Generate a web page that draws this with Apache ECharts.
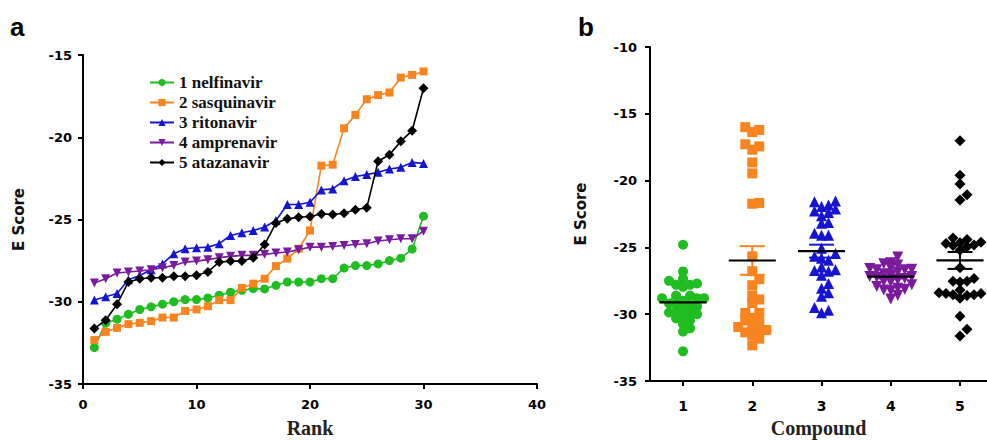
<!DOCTYPE html>
<html><head><meta charset="utf-8">
<script src="https://cdn.jsdelivr.net/npm/echarts@6/dist/echarts.min.js"></script>
<style>html,body{margin:0;padding:0;background:#fff}#c{width:987px;height:440px}</style>
</head><body><div id="c"></div>
<script>
var ranks = [1,2,3,4,5,6,7,8,9,10,11,12,13,14,15,16,17,18,19,20,21,22,23,24,25,26,27,28,29,30];
var seriesNames = ['1 nelfinavir','2 sasquinavir','3 ritonavir','4 amprenavir','5 atazanavir'];
var compounds = [1,2,3,4,5];
var nelfinavir = [-32.78,-31.3,-31.06,-30.76,-30.47,-30.31,-30.15,-30.0,-29.87,-29.87,-29.77,-29.6,-29.42,-29.3,-29.2,-29.22,-29.0,-28.8,-28.8,-28.8,-28.6,-28.6,-27.95,-27.8,-27.8,-27.7,-27.5,-27.35,-26.8,-24.8];
var sasquinavir = [-32.33,-31.83,-31.59,-31.36,-31.28,-31.18,-30.96,-30.96,-30.56,-30.47,-30.27,-29.9,-29.9,-29.16,-28.9,-28.6,-27.83,-27.38,-26.78,-25.67,-21.73,-21.67,-19.46,-18.64,-17.69,-17.44,-17.28,-16.37,-16.21,-16.0];
var ritonavir = [-29.9,-29.7,-29.5,-28.66,-28.4,-28.05,-27.7,-27.08,-26.78,-26.72,-26.68,-26.47,-25.97,-25.81,-25.67,-25.46,-25.06,-24.09,-24.09,-23.95,-23.2,-23.14,-22.64,-22.39,-22.27,-22.13,-21.93,-21.83,-21.53,-21.59];
var amprenavir = [-28.86,-28.6,-28.25,-28.19,-28.13,-28.05,-27.93,-27.79,-27.59,-27.53,-27.44,-27.32,-27.24,-27.18,-27.18,-27.12,-27.04,-26.98,-26.84,-26.68,-26.68,-26.64,-26.58,-26.52,-26.47,-26.31,-26.23,-26.17,-26.17,-25.71];
var atazanavir = [-31.63,-31.12,-30.15,-28.8,-28.6,-28.54,-28.54,-28.45,-28.45,-28.39,-28.19,-27.59,-27.53,-27.53,-27.32,-26.52,-25.22,-24.96,-24.86,-24.82,-24.66,-24.7,-24.62,-24.41,-24.29,-21.46,-21.06,-20.25,-19.6,-17.02];

var allData = [nelfinavir, sasquinavir, ritonavir, amprenavir, atazanavir];
var colors = ['#1fbd1f','#f7841f','#1414d2','#7a1a9c','#000000'];
var invTri = 'path://M0,0 L10,0 L5,9 Z';
var symbols = ['circle','rect','triangle',invTri,'diamond'];
var sizesA = [9,8,9,9,10];
var sizesB = [10,10,11,11,11];

// panel b axis ranges
var bxMin = 0.523, bxMax = 5.39, byMin = -35, byMax = -10;
var bLeft = 650, bRight = 987, bTop = 47, bBottom = 381;
var pxPerX = (bRight - bLeft) / (bxMax - bxMin);
var pxPerY = (bBottom - bTop) / (byMax - byMin);

function swarm(vals, center, diam, maxOff) {
  var sorted = vals.slice().sort(function(a,b){return a-b;});
  var placed = [];
  var out = [];
  sorted.forEach(function(v){
    var best = null;
    for (var k = 0; k < 40; k++) {
      var step = Math.ceil(k/2) * (k % 2 === 1 ? 1 : -1);
      var off = step * diam;
      if (Math.abs(off) > maxOff) continue;
      var ok = true;
      for (var i = 0; i < placed.length; i++) {
        var dx = placed[i][0] - off, dy = (placed[i][1] - v) * pxPerY;
        if (dx*dx + dy*dy < diam*diam) { ok = false; break; }
      }
      if (ok) { best = off; break; }
    }
    if (best === null) best = 0;
    placed.push([best, v]);
    out.push([center + best / pxPerX, v]);
  });
  return out;
}

function meanSem(vals) {
  var n = vals.length, m = 0;
  vals.forEach(function(v){ m += v; }); m /= n;
  var s = 0; vals.forEach(function(v){ s += (v-m)*(v-m); });
  var sd = Math.sqrt(s/(n-1));
  return [m, sd/Math.sqrt(n)];
}

var series = [];
allData.forEach(function(vals, i){
  series.push({
    name: seriesNames[i], type: 'line', xAxisIndex: 0, yAxisIndex: 0,
    data: ranks.map(function(r, j){ return [r, vals[j]]; }),
    symbol: symbols[i], symbolSize: sizesA[i],
    lineStyle: {color: colors[i], width: 1.6},
    itemStyle: {color: colors[i], opacity: 1},
    z: 2 + (i === 4 ? 5 : i)
  });
});
allData.forEach(function(vals, i){
  series.push({
    name: 'b' + (i+1), type: 'scatter', xAxisIndex: 1, yAxisIndex: 1,
    data: swarm(vals, compounds[i], 7, 22),
    symbol: symbols[i], symbolSize: sizesB[i],
    itemStyle: {color: colors[i], opacity: 1}, z: 2
  });
});
var msData = allData.map(function(vals, i){ var ms = meanSem(vals); return [compounds[i], ms[0], ms[1]]; });
series.push({
  name: 'meanSem', type: 'custom', xAxisIndex: 1, yAxisIndex: 1, z: 10,
  data: msData,
  renderItem: function(params, api){
    var c = api.value(0), m = api.value(1), se = api.value(2);
    var col = colors[params.dataIndex];
    var pL = api.coord([c - 0.34, m]), pR = api.coord([c + 0.34, m]);
    var pT = api.coord([c, m + se]), pB = api.coord([c, m - se]);
    var cT1 = api.coord([c - 0.18, m + se]), cT2 = api.coord([c + 0.18, m + se]);
    var cB1 = api.coord([c - 0.18, m - se]), cB2 = api.coord([c + 0.18, m - se]);
    var st = {stroke: col, lineWidth: 2};
    return {type: 'group', children: [
      {type: 'line', shape: {x1: pT[0], y1: pT[1], x2: pB[0], y2: pB[1]}, style: st},
      {type: 'line', shape: {x1: cT1[0], y1: cT1[1], x2: cT2[0], y2: cT2[1]}, style: st},
      {type: 'line', shape: {x1: cB1[0], y1: cB1[1], x2: cB2[0], y2: cB2[1]}, style: st},
      {type: 'line', shape: {x1: pL[0], y1: pL[1], x2: pR[0], y2: pR[1]}, style: {stroke: '#000', lineWidth: 2.2}}
    ]};
  }
});

var axisLine = {show: true, lineStyle: {color: '#000', width: 2}};
var axisTick = {show: true, inside: false, length: 5, lineStyle: {color: '#000', width: 2}};
var lbl = {color: '#000', fontFamily: '"DejaVu Sans", Arial, sans-serif', fontWeight: 'bold', fontSize: 13};
var serifName = {fontFamily: '"Liberation Serif", "Times New Roman", serif', fontWeight: 'bold', fontSize: 20, color: '#222'};
var sansName = {fontFamily: '"DejaVu Sans", Arial, sans-serif', fontWeight: 'bold', fontSize: 15, color: '#111'};

var option = {
  animation: false,
  backgroundColor: '#fff',
  graphic: [
    {type: 'text', left: 10, top: 14, style: {text: 'a', font: 'bold 26px "Liberation Sans", Arial, sans-serif', fill: '#000'}},
    {type: 'text', left: 578, top: 14, style: {text: 'b', font: 'bold 26px "Liberation Sans", Arial, sans-serif', fill: '#000'}}
  ],
  legend: {
    data: seriesNames, orient: 'vertical', left: 144, top: 69,
    itemWidth: 24, itemHeight: 9, itemGap: 3,
    textStyle: {fontFamily: '"Liberation Serif", "Times New Roman", serif', fontWeight: 'bold', fontSize: 17, color: '#111', lineHeight: 17}
  },
  grid: [
    {left: 83, right: 450, top: 55, bottom: 56, containLabel: false, outerBoundsMode: 'none'},
    {left: bLeft, right: 987 - bRight, top: bTop, bottom: 440 - bBottom, containLabel: false, outerBoundsMode: 'none'}
  ],
  xAxis: [
    {type: 'value', gridIndex: 0, min: 0, max: 40, interval: 10, splitLine: {show: false},
     axisLine: axisLine, axisTick: axisTick, axisLabel: Object.assign({}, lbl, {margin: 14}),
     name: 'Rank', nameLocation: 'middle', nameGap: 34, nameTextStyle: serifName},
    {type: 'value', gridIndex: 1, min: bxMin, max: bxMax, splitLine: {show: false},
     axisLine: axisLine,
     axisTick: Object.assign({customValues: compounds}, axisTick),
     axisLabel: Object.assign({}, lbl, {margin: 18, customValues: compounds, fontSize: 14}),
     name: 'Compound', nameLocation: 'middle', nameGap: 36, nameTextStyle: serifName}
  ],
  yAxis: [
    {type: 'value', gridIndex: 0, min: -35, max: -15, interval: 5, splitLine: {show: false},
     axisLine: axisLine, axisTick: axisTick, axisLabel: Object.assign({}, lbl, {margin: 11}),
     name: 'E Score', nameLocation: 'middle', nameGap: 57, nameRotate: 90, nameTextStyle: sansName},
    {type: 'value', gridIndex: 1, min: byMin, max: byMax, interval: 5, splitLine: {show: false},
     axisLine: axisLine, axisTick: axisTick, axisLabel: Object.assign({}, lbl, {margin: 13}),
     name: 'E Score', nameLocation: 'middle', nameGap: 62, nameRotate: 90, nameTextStyle: sansName}
  ],
  series: series
};
var chart = echarts.init(document.getElementById('c'), null, {renderer: 'svg'});
chart.setOption(option);
</script></body></html>
